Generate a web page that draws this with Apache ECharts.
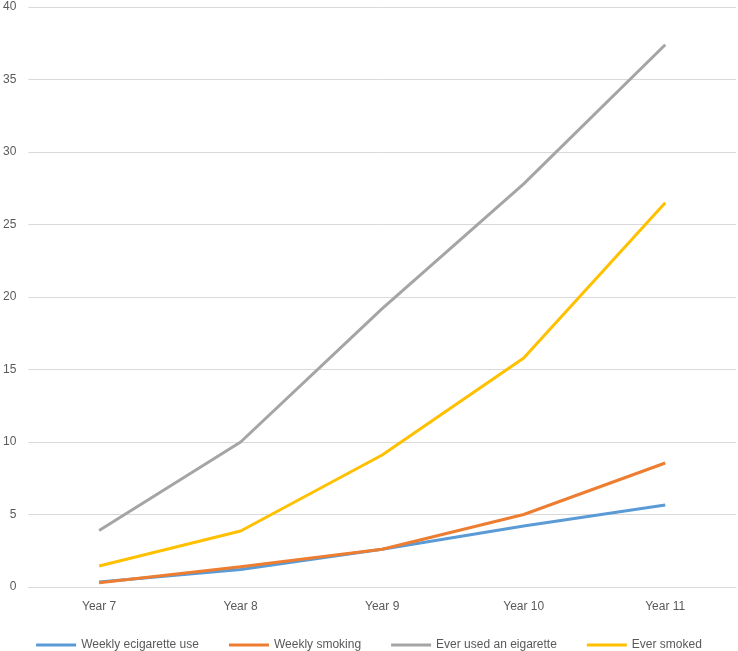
<!DOCTYPE html>
<html><head><meta charset="utf-8">
<script src="https://cdn.jsdelivr.net/npm/echarts@6/dist/echarts.min.js"></script>
<style>html,body{margin:0;padding:0;background:#fff}#c{width:738px;height:651px}</style>
</head><body><div id="c"></div>
<script>
const categories = ['Year 7','Year 8','Year 9','Year 10','Year 11'];
const weeklyEcig = [0.35, 1.2, 2.6, 4.2, 5.65];
const weeklySmoking = [0.3, 1.4, 2.6, 5.0, 8.55];
const everEcig = [3.9, 10.0, 19.2, 27.8, 37.4];
const everSmoked = [1.45, 3.86, 9.1, 15.8, 26.5];
const names = ['Weekly ecigarette use','Weekly smoking','Ever used an eigarette','Ever smoked'];
const colors = ['#5b9bd5','#ed7d31','#a5a5a5','#ffc000'];
const data = [weeklyEcig, weeklySmoking, everEcig, everSmoked];
const chart = echarts.init(document.getElementById('c'));
chart.setOption({
  animation:false,
  textStyle:{fontFamily:'Liberation Sans, Arial, sans-serif'},
  grid:{left:28,right:2,top:7,bottom:64},
  legend:{top:634,left:'center',itemWidth:40,itemHeight:3,itemGap:30,icon:'rect',
    textStyle:{color:'#595959',fontSize:12},data:names},
  xAxis:{type:'category',data:categories,boundaryGap:true,
    axisLine:{lineStyle:{color:'#d9d9d9'}},axisTick:{show:false},
    axisLabel:{color:'#595959',fontSize:12,margin:14}},
  yAxis:{type:'value',min:0,max:40,interval:5,
    axisLine:{show:false},axisTick:{show:false},
    splitLine:{lineStyle:{color:'#d9d9d9'}},
    axisLabel:{color:'#595959',fontSize:12,margin:12}},
  series:names.map((n,i)=>({name:n,type:'line',data:data[i],symbol:'none',
    lineStyle:{color:colors[i],width:3},itemStyle:{color:colors[i]}}))
});
</script></body></html>
